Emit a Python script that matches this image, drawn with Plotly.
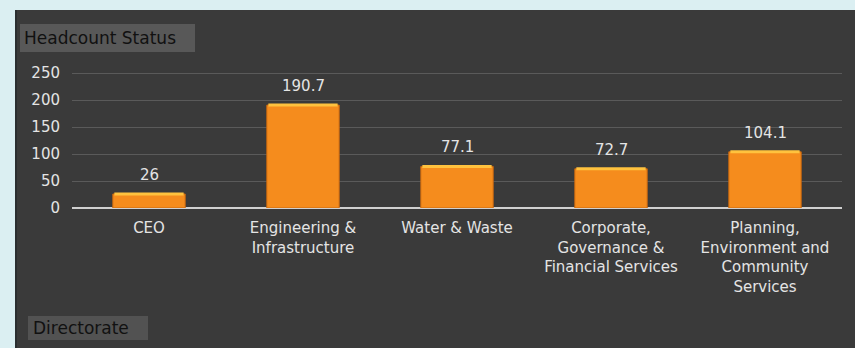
import plotly.graph_objects as go

# Headcount by directorate
directorates = [
    "CEO",
    "Engineering &<br>Infrastructure",
    "Water & Waste",
    "Corporate,<br>Governance &<br>Financial Services",
    "Planning,<br>Environment and<br>Community<br>Services",
]
headcount = [26, 190.7, 77.1, 72.7, 104.1]
y_ticks = [0, 50, 100, 150, 200, 250]

W, H = 855, 348
L, R, T, B = 72, 13, 72, 140
PW, PH = W - L - R, H - T - B
FONT = "DejaVu Sans, Verdana, sans-serif"
TXT = "#e4e4e4"
BAR_W = 0.47


def px(x):
    """Pixel column -> plot-area paper fraction."""
    return (x - L) / PW


def py(y):
    """Pixel row (from top) -> plot-area paper fraction."""
    return (H - B - y) / PH


fig = go.Figure()
fig.add_trace(go.Bar(
    x=directorates,
    y=headcount,
    marker=dict(color="#f58c1d", line=dict(color="#c9680f", width=1)),
    width=BAR_W,
    hoverinfo="x+y",
))

shapes = [
    # dark panel behind the chart
    dict(type="rect", xref="paper", yref="paper", layer="below",
         x0=px(15), x1=px(W), y0=py(H), y1=py(10),
         fillcolor="#3a3a3a", line=dict(width=0)),
    dict(type="rect", xref="paper", yref="paper", layer="below",
         x0=px(15), x1=px(17), y0=py(H), y1=py(10),
         fillcolor="#2a2e30", line=dict(width=0)),
    # title badge
    dict(type="rect", xref="paper", yref="paper", layer="below",
         x0=px(20), x1=px(195), y0=py(52), y1=py(24),
         fillcolor="#585858", line=dict(width=0)),
    # axis-title badge
    dict(type="rect", xref="paper", yref="paper", layer="below",
         x0=px(28), x1=px(148), y0=py(340), y1=py(316),
         fillcolor="#525252", line=dict(width=0)),
]

# light highlight along the top of each bar
for i, v in enumerate(headcount):
    shapes.append(dict(
        type="line", xref="x", yref="y", layer="above",
        x0=i - BAR_W / 2 + 0.01, x1=i + BAR_W / 2 - 0.01, y0=v, y1=v,
        line=dict(color="#ffc23e", width=3),
    ))

annotations = [
    dict(text="Headcount Status", xref="paper", yref="paper",
         x=px(22), y=py(38), xanchor="left", yanchor="middle",
         showarrow=False, font=dict(color="#111111", size=17, family=FONT)),
    dict(text="Directorate", xref="paper", yref="paper",
         x=px(31), y=py(328), xanchor="left", yanchor="middle",
         showarrow=False, font=dict(color="#111111", size=17, family=FONT)),
]
# value labels floating above each bar
for name, v in zip(directorates, headcount):
    annotations.append(dict(
        text=f"{v:g}", x=name, y=v, xref="x", yref="y",
        yanchor="bottom", yshift=8, showarrow=False,
        font=dict(color=TXT, size=15, family=FONT),
    ))

fig.update_layout(
    width=W, height=H,
    margin=dict(l=L, r=R, t=T, b=B),
    paper_bgcolor="#dbeff2",
    plot_bgcolor="rgba(0,0,0,0)",
    showlegend=False,
    shapes=shapes,
    annotations=annotations,
    font=dict(family=FONT, color=TXT, size=15),
    xaxis=dict(
        showgrid=False, showline=False, zeroline=False,
        tickfont=dict(color=TXT, size=15, family=FONT),
        ticks="", ticklabelstandoff=9,
    ),
    yaxis=dict(
        range=[0, 252], tickvals=y_ticks,
        showgrid=True, gridcolor="#5a5a5a", gridwidth=1,
        zeroline=True, zerolinecolor="#d0d0d0", zerolinewidth=2,
        showline=False, ticks="",
        tickfont=dict(color=TXT, size=15, family=FONT),
        ticklabelstandoff=11,
    ),
)

fig.write_html("out.html")
